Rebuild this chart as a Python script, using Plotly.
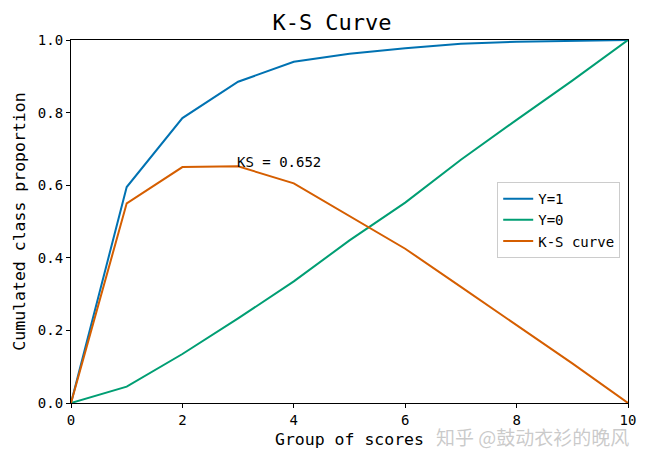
import plotly.graph_objects as go

# groups of scores and the cumulated proportions
groups = [0, 1, 2, 3, 4, 5, 6, 7, 8, 9, 10]
y1_cum = [0.0, 0.595, 0.785, 0.885, 0.940, 0.962, 0.977, 0.990, 0.995, 0.997, 1.0]
y0_cum = [0.0, 0.045, 0.135, 0.233, 0.335, 0.448, 0.552, 0.670, 0.780, 0.888, 1.0]
ks_curve = [0.0, 0.550, 0.650, 0.652, 0.605, 0.514, 0.425, 0.320, 0.215, 0.109, 0.0]
ks_label = "KS = 0.652"
ks_at = 3

mono = "DejaVu Sans Mono"

fig = go.Figure()
fig.add_trace(go.Scatter(x=groups, y=y1_cum, mode="lines", name="Y=1",
                         line=dict(color="#0072B2", width=2)))
fig.add_trace(go.Scatter(x=groups, y=y0_cum, mode="lines", name="Y=0",
                         line=dict(color="#009E73", width=2)))
fig.add_trace(go.Scatter(x=groups, y=ks_curve, mode="lines", name="K-S curve",
                         line=dict(color="#D55E00", width=2)))

fig.add_annotation(x=ks_at, y=ks_curve[ks_at], text=ks_label, showarrow=False,
                   xanchor="left", yanchor="bottom", yshift=-6, xshift=-3,
                   font=dict(family=mono, size=14, color="black"))

# watermark
fig.add_annotation(x=1.006, y=-0.092, xref="paper", yref="paper",
                   text="知乎 @鼓动衣衫的晚风", showarrow=False,
                   xanchor="right", yanchor="middle",
                   font=dict(family="Noto Sans CJK SC", size=19, color="rgba(150,150,150,0.5)"))

axis_style = dict(showline=True, linecolor="black", linewidth=1.2, mirror=True,
                  ticks="outside", ticklen=4, tickcolor="black", showgrid=False,
                  zeroline=False, automargin=False,
                  tickfont=dict(family=mono, size=14, color="black"))

fig.update_xaxes(range=[0, 10], dtick=2, **axis_style,
                 title=dict(text="Group of scores", standoff=6,
                            font=dict(family=mono, size=16.5, color="black")))
fig.update_yaxes(range=[0, 1], dtick=0.2, tickformat=".1f", **axis_style,
                 title=dict(text="Cumulated class proportion", standoff=8,
                            font=dict(family=mono, size=16.5, color="black")))

# page body adds an 8px offset, so margins are shifted to keep the plot box in place
fig.update_layout(
    width=648, height=462,
    margin=dict(l=63, r=28, t=32, b=67),
    plot_bgcolor="white", paper_bgcolor="white",
    title=dict(text="K-S Curve", x=0.5, xanchor="center", y=0.968, yanchor="middle",
               font=dict(family=mono, size=22, color="black")),
    legend=dict(x=0.986, y=0.504, xanchor="right", yanchor="middle", itemwidth=30,
                bgcolor="rgba(255,255,255,0.8)", bordercolor="#cccccc", borderwidth=1,
                font=dict(family=mono, size=14, color="black")),
)

fig.write_html("out.html")
